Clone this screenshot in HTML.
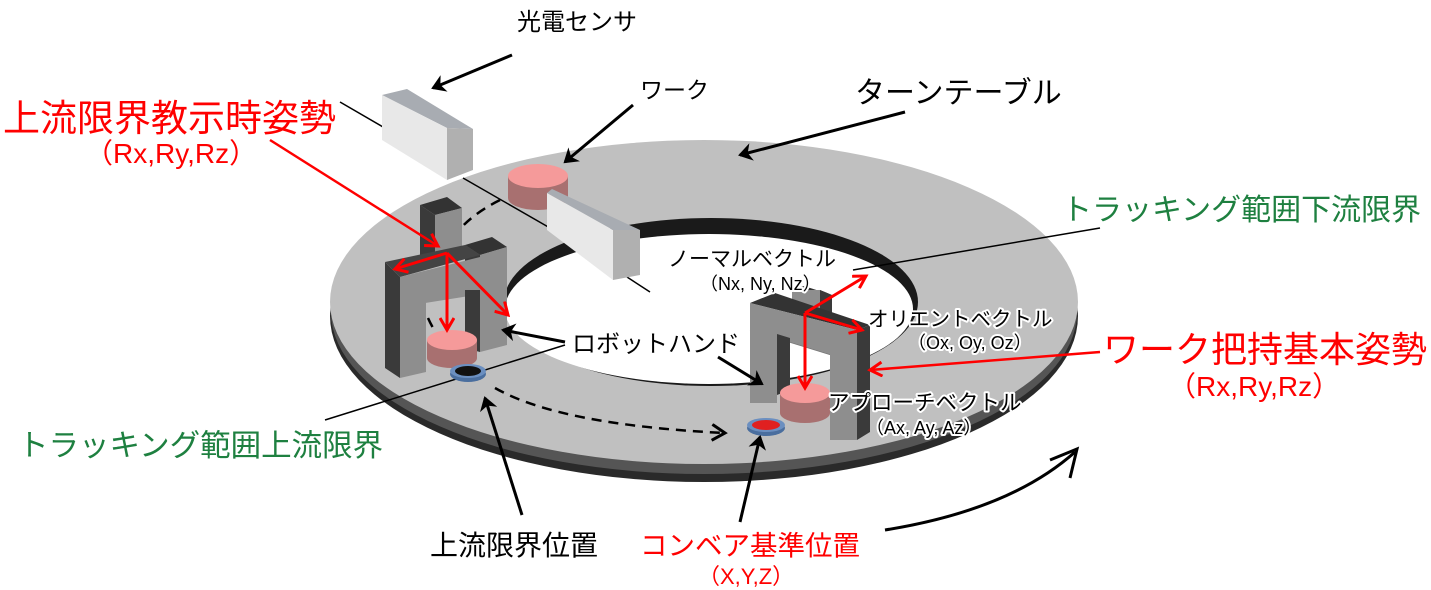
<!DOCTYPE html>
<html><head><meta charset="utf-8"><style>
html,body{margin:0;padding:0;background:#fff;}
svg{display:block;}
text{font-family:"Liberation Sans","Noto Sans CJK JP",sans-serif;}
.w{paint-order:stroke;stroke:#fff;stroke-width:4px;stroke-linejoin:round;}
</style></head><body>
<svg width="1431" height="590" viewBox="0 0 1431 590" xmlns="http://www.w3.org/2000/svg">
<defs>
<marker id="ar" markerWidth="16" markerHeight="16" refX="13" refY="8" orient="auto" markerUnits="userSpaceOnUse"><path d="M1,1 L13,8 L1,15" fill="none" stroke="#f00" stroke-width="3"/></marker>
<marker id="ak" markerWidth="18" markerHeight="18" refX="14" refY="9" orient="auto" markerUnits="userSpaceOnUse"><path d="M1,1 L14,9 L1,17" fill="none" stroke="#000" stroke-width="3"/></marker>
<marker id="at" markerWidth="20" markerHeight="20" refX="12" refY="10" orient="auto" markerUnits="userSpaceOnUse"><path d="M0,1 L14,10 L0,19 L4,10z" fill="#000"/></marker>
</defs>

<!-- turntable -->
<ellipse cx="704" cy="316" rx="374" ry="166" fill="#2a2a2a"/>
<ellipse cx="704" cy="312" rx="373" ry="162" fill="#555"/>
<ellipse cx="704" cy="302" rx="374" ry="162" fill="#c0c0c0"/>
<ellipse cx="711" cy="302" rx="207" ry="84" fill="#1a1a1a"/>
<ellipse cx="709" cy="309" rx="204" ry="75" fill="#fff"/>

<!-- sensor lines -->
<line x1="340" y1="102" x2="383" y2="127" stroke="#000" stroke-width="1.5"/>
<line x1="463" y1="178" x2="550" y2="228" stroke="#000" stroke-width="1.5"/>
<line x1="627" y1="277" x2="650" y2="292" stroke="#000" stroke-width="1.5"/>

<!-- work cylinder -->
<path d="M508,176 L508,198 A30,12 0 0 0 568,198 L568,176z" fill="#a87070"/>
<ellipse cx="538" cy="176" rx="30" ry="12" fill="#f59a9a"/>

<!-- sensor 1 -->
<polygon points="382,95 407,89 473,129 447,128" fill="#a8acb2"/>
<polygon points="382,95 447,128 447,180 382,140" fill="#e8e8e8"/>
<polygon points="447,128 473,129 473,170 447,180" fill="#b0b0b0"/>
<!-- sensor 2 -->
<polygon points="547,193 552,189 640,230 613,230" fill="#a8acb2"/>
<polygon points="547,193 613,230 613,280 547,230" fill="#e8e8e8"/>
<polygon points="613,230 640,230 640,275 613,280" fill="#b0b0b0"/>

<!-- dashed paths -->
<path d="M500,200 Q470,215 455,235" fill="none" stroke="#000" stroke-width="2.5" stroke-dasharray="10,7"/>
<path d="M428,318 Q440,345 462,358" fill="none" stroke="#000" stroke-width="2.5" stroke-dasharray="10,7" marker-end="url(#ak)"/>
<path d="M495,388 Q560,425 725,433" fill="none" stroke="#000" stroke-width="2.5" stroke-dasharray="10,7" marker-end="url(#ak)"/>

<!-- tracking lines -->
<line x1="325" y1="420" x2="565" y2="345" stroke="#000" stroke-width="1.5"/>
<line x1="1100" y1="228" x2="853" y2="270" stroke="#000" stroke-width="1.5"/>

<!-- hand 1 -->
<polygon points="420,205 447,197 462,208 435,215" fill="#333"/>
<polygon points="420,205 435,215 435,260 420,260" fill="#3a3a3a"/>
<polygon points="435,215 462,208 462,255 435,260" fill="#8e8e8e"/>
<polygon points="465,245 492,237 507,247 480,255" fill="#333"/>
<polygon points="465,245 480,255 480,300 465,300" fill="#3a3a3a"/>
<polygon points="480,255 507,247 507,295 480,300" fill="#8e8e8e"/>
<polygon points="385,262 400,277 400,378 385,368" fill="#3a3a3a"/>
<polygon points="385,262 465,245 480,255 400,277" fill="#444"/>
<polygon points="400,277 480,257 507,250 507,290 400,307" fill="#8e8e8e"/>
<polygon points="465,290 480,290 480,352 465,348" fill="#3a3a3a"/>
<path d="M427,340 L427,358 A25,10 0 0 0 477,358 L477,340z" fill="#a87070"/>
<ellipse cx="452" cy="340" rx="25" ry="10" fill="#f59a9a"/>
<polygon points="400,300 426,296 426,372 400,378" fill="#8e8e8e"/>
<polygon points="480,285 507,285 507,345 480,352" fill="#8e8e8e"/>
<ellipse cx="468" cy="374" rx="18" ry="8" fill="#4a6e9e"/>
<ellipse cx="468" cy="371" rx="18" ry="7" fill="#6b8fc0"/>
<ellipse cx="468" cy="371" rx="13" ry="5" fill="#111"/>

<!-- hand 2 -->
<polygon points="792,290 804,286 832,295 820,290" fill="#333"/>
<polygon points="792,290 820,290 820,318 792,310" fill="#8e8e8e"/>
<polygon points="820,290 832,295 832,320 820,318" fill="#3a3a3a"/>
<polygon points="750,303 775,293 870,325 857,330" fill="#333"/>
<polygon points="750,303 857,330 857,363 750,330" fill="#8e8e8e"/>
<line x1="750" y1="330" x2="857" y2="363" stroke="#777" stroke-width="0.7"/>
<polygon points="750,328 777,334 777,403 750,403" fill="#8e8e8e"/>
<polygon points="777,334 790,338 790,390 777,395" fill="#3a3a3a"/>
<path d="M780,393 L780,413 A25,10 0 0 0 830,413 L830,393z" fill="#a87070"/>
<ellipse cx="805" cy="393" rx="25" ry="10" fill="#f59a9a"/>
<polygon points="830,350 857,356 857,440 830,440" fill="#8e8e8e"/>
<polygon points="857,330 870,325 870,432 857,440" fill="#3a3a3a"/>
<ellipse cx="766" cy="428" rx="19" ry="8" fill="#4a6e9e"/>
<ellipse cx="766" cy="425" rx="19" ry="7" fill="#6b8fc0"/>
<ellipse cx="766" cy="425" rx="14" ry="5" fill="#e02020"/>

<!-- red arrows -->
<line x1="270" y1="140" x2="438" y2="246" stroke="#f00" stroke-width="2.5" marker-end="url(#ar)"/>
<line x1="447" y1="253" x2="395" y2="269" stroke="#f00" stroke-width="3" marker-end="url(#ar)"/>
<line x1="447" y1="253" x2="447" y2="330" stroke="#f00" stroke-width="3" marker-end="url(#ar)"/>
<line x1="447" y1="253" x2="508" y2="315" stroke="#f00" stroke-width="3" marker-end="url(#ar)"/>
<line x1="805" y1="313" x2="866" y2="276" stroke="#f00" stroke-width="3" marker-end="url(#ar)"/>
<line x1="805" y1="313" x2="862" y2="330" stroke="#f00" stroke-width="3" marker-end="url(#ar)"/>
<line x1="805" y1="313" x2="805" y2="388" stroke="#f00" stroke-width="3" marker-end="url(#ar)"/>
<line x1="1100" y1="352" x2="870" y2="370" stroke="#f00" stroke-width="2.5" marker-end="url(#ar)"/>

<!-- black arrows -->
<line x1="512" y1="55" x2="433" y2="88" stroke="#000" stroke-width="3" marker-end="url(#at)"/>
<line x1="633" y1="105" x2="565" y2="162" stroke="#000" stroke-width="3" marker-end="url(#at)"/>
<line x1="905" y1="112" x2="740" y2="155" stroke="#000" stroke-width="3" marker-end="url(#at)"/>
<line x1="565" y1="342" x2="503" y2="330" stroke="#000" stroke-width="3" marker-end="url(#at)"/>
<line x1="718" y1="357" x2="762" y2="384" stroke="#000" stroke-width="3" marker-end="url(#at)"/>
<line x1="522" y1="515" x2="485" y2="398" stroke="#000" stroke-width="3" marker-end="url(#at)"/>
<line x1="740" y1="522" x2="760" y2="437" stroke="#000" stroke-width="3" marker-end="url(#at)"/>
<path d="M885,530 Q1010,510 1075,452" fill="none" stroke="#000" stroke-width="3"/>
<path d="M1050,460 L1077,449 L1070,478" fill="none" stroke="#000" stroke-width="3"/>

<!-- labels -->
<text x="517" y="30" font-size="24">光電センサ</text>
<text x="640" y="98" font-size="23">ワーク</text>
<text x="855" y="103" font-size="30">ターンテーブル</text>
<text x="3" y="131" font-size="37" fill="#f00">上流限界教示時姿勢</text>
<text x="85" y="163" font-size="28" fill="#f00">（Rx,Ry,Rz）</text>
<text x="1062" y="220" font-size="30" fill="#1e8040">トラッキング範囲下流限界</text>
<text x="668" y="266" font-size="21" class="w">ノーマルベクトル</text>
<text x="700" y="290" font-size="18" class="w">（Nx, Ny, Nz）</text>
<text x="868" y="326" font-size="20.5" class="w">オリエントベクトル</text>
<text x="908" y="349" font-size="18" class="w">（Ox, Oy, Oz）</text>
<text x="1103" y="362" font-size="36" fill="#f00">ワーク把持基本姿勢</text>
<text x="1168" y="396" font-size="28" fill="#f00">（Rx,Ry,Rz）</text>
<text x="572" y="352" font-size="24" class="w">ロボットハンド</text>
<text x="828" y="410" font-size="21.5" class="w">アプローチベクトル</text>
<text x="866" y="434" font-size="18" class="w">（Ax, Ay, Az）</text>
<text x="18" y="456" font-size="30.5" fill="#1e8040">トラッキング範囲上流限界</text>
<text x="430" y="555" font-size="28" font-weight="normal">上流限界位置</text>
<text x="640" y="555" font-size="27.5" fill="#f00">コンベア基準位置</text>
<text x="698" y="584" font-size="22" fill="#f00">（X,Y,Z）</text>
</svg>
</body></html>
